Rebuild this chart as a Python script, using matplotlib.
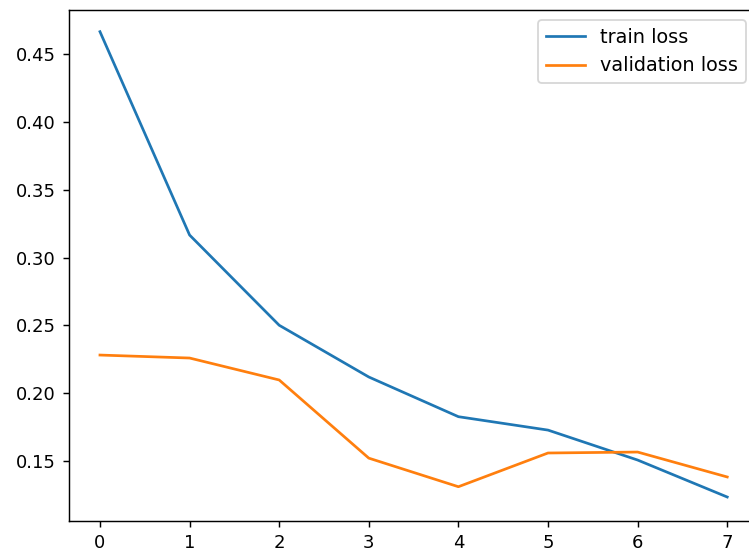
import matplotlib
matplotlib.use("Agg")
import matplotlib.pyplot as plt

epochs = [0, 1, 2, 3, 4, 5, 6, 7]
train_loss = [0.4667, 0.3166, 0.2500, 0.2118, 0.1825, 0.1726, 0.1505, 0.1232]
val_loss = [0.2280, 0.2258, 0.2096, 0.1519, 0.1308, 0.1557, 0.1564, 0.1380]

fig = plt.figure(figsize=(749 / 130, 555 / 130), dpi=130)
ax = fig.add_axes([68.6 / 749, 1 - 521 / 555, 690 / 749, 511 / 555])

ax.plot(epochs, train_loss, label="train loss")
ax.plot(epochs, val_loss, label="validation loss")

ax.set_xlim(-0.35, 7.35)
ax.set_ylim(0.1055, 0.4827)
ax.set_yticks([0.15, 0.20, 0.25, 0.30, 0.35, 0.40, 0.45])
ax.legend(loc="upper right", fontsize=10.7, borderaxespad=0,
          bbox_to_anchor=(746 / 749, 1 - 20 / 555),
          bbox_transform=fig.transFigure)

fig.savefig("out.png", dpi=130)
